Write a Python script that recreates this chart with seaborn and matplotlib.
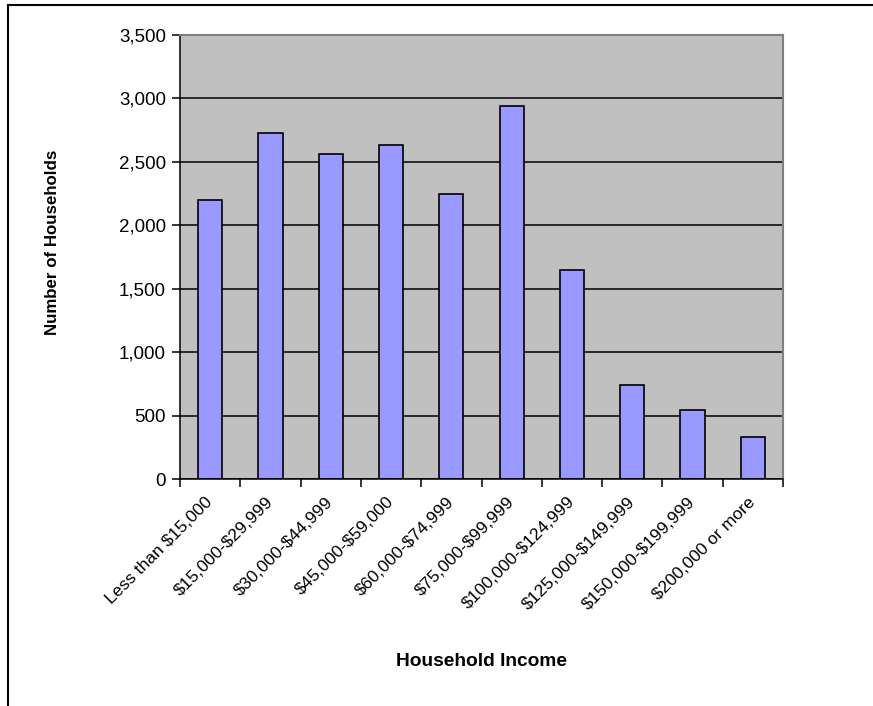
import matplotlib
matplotlib.use("Agg")
import matplotlib.pyplot as plt
import matplotlib.transforms as mtransforms
from matplotlib.lines import Line2D
import numpy as np
import pandas as pd
import seaborn as sns

income_brackets = [
    "Less than $15,000",
    "$15,000-$29,999",
    "$30,000-$44,999",
    "$45,000-$59,000",
    "$60,000-$74,999",
    "$75,000-$99,999",
    "$100,000-$124,999",
    "$125,000-$149,999",
    "$150,000-$199,999",
    "$200,000 or more",
]
households = [2200, 2725, 2565, 2630, 2250, 2940, 1648, 743, 544, 334]
y_ticks = [0, 500, 1000, 1500, 2000, 2500, 3000, 3500]

plt.rcParams["font.family"] = ["Liberation Sans", "DejaVu Sans"]
plt.rcParams["text.parse_math"] = False

df = pd.DataFrame({"bracket": income_brackets, "households": households})

fig = plt.figure(figsize=(8.73, 7.06), dpi=100)
ax = fig.add_axes([180 / 873, 1 - 479 / 706, 603 / 873, 444 / 706])
ax.set_facecolor("#C0C0C0")

sns.barplot(data=df, x="bracket", y="households", color="#9999FF",
            edgecolor="black", linewidth=1.2, width=0.4, saturation=1, ax=ax)

ax.set_ylim(0, 3500)
ax.set_xlim(-0.5, len(income_brackets) - 0.5)
ax.set_yticks(y_ticks)
ax.set_yticklabels([f"{v:,}" for v in y_ticks], fontsize=13.5)
ax.yaxis.grid(True, color="black", linewidth=1.1)
ax.set_axisbelow(True)

# excel style: ticks between categories, labels at centres
ax.set_xticks(np.arange(-0.5, len(income_brackets), 1))
ax.set_xticklabels([])
ax.set_xticks(np.arange(len(income_brackets)), minor=True)
ax.set_xticklabels(income_brackets, minor=True, rotation=45, ha="right",
                   va="top", rotation_mode="anchor", fontsize=12.6)
ax.tick_params(axis="x", which="minor", length=0, pad=11)
ax.tick_params(axis="x", which="major", length=6, width=1.1, color="black")
ax.tick_params(axis="y", length=6, width=1.1, color="black", pad=4)

shift = mtransforms.ScaledTranslation(-5 / 100, 0, fig.dpi_scale_trans)
for lbl in ax.get_xticklabels(minor=True):
    lbl.set_transform(lbl.get_transform() + shift)

for side in ["left", "bottom"]:
    ax.spines[side].set_color("black")
    ax.spines[side].set_linewidth(1.1)
for side in ["right", "top"]:
    ax.spines[side].set_color("#808080")
    ax.spines[side].set_linewidth(1.5)

ax.set_xlabel("")
ax.set_ylabel("")
fig.text(481 / 873, 1 - 662 / 706, "Household Income", ha="center", va="center",
         fontsize=13.8, fontweight="bold")
fig.text(53 / 873, 1 - 242 / 706, "Number of Households", ha="center", va="center",
         rotation=90, fontsize=12.2, fontweight="bold")

# chart border (left and top edges visible)
fig.add_artist(Line2D([8 / 873, 8 / 873], [0, 1 - 5 / 706], color="black",
                      linewidth=1.5, transform=fig.transFigure))
fig.add_artist(Line2D([8 / 873, 1], [1 - 5 / 706, 1 - 5 / 706], color="black",
                      linewidth=1.5, transform=fig.transFigure))

fig.savefig("out.png", dpi=100)
